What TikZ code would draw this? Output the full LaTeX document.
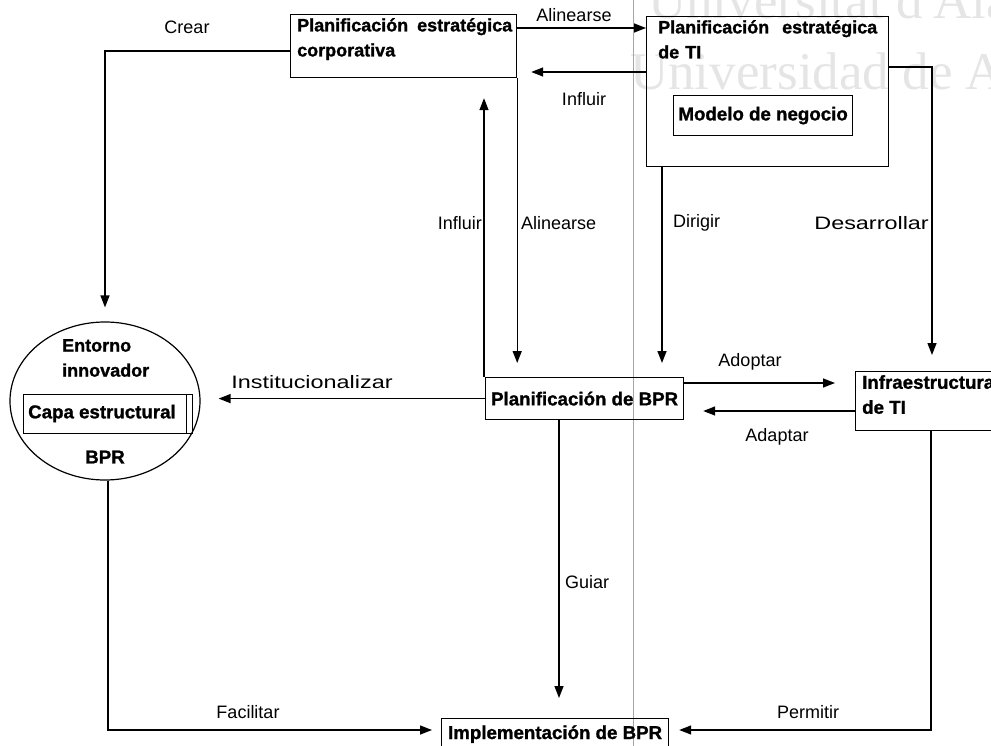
\documentclass[tikz,border=0pt]{standalone}
\usepackage{fontspec}
\setmainfont{Liberation Sans}[BoldFeatures={FakeBold=1.2}]
\newfontfamily\wmfont{Liberation Serif}
\usetikzlibrary{arrows.meta,shapes.geometric,calc}

\begin{document}
\begin{tikzpicture}[x=1pt,y=-1pt,
  box/.style={draw, line width=1.2pt, rectangle, inner sep=0pt},
  btext/.style={font=\bfseries\fontsize{18}{25}\selectfont, inner sep=0pt},
  bbig/.style={font=\bfseries\fontsize{18.7}{25}\selectfont, inner sep=0pt},
  lbl/.style={font=\fontsize{18}{20}\selectfont, inner sep=0pt},
  arr/.style={line width=1.4pt, -{Triangle[length=12pt,width=9pt]}},
  wm/.style={text=black!10, font=\wmfont\fontsize{53}{55}\selectfont, inner sep=0pt, anchor=base west}]

\useasboundingbox (0,0) rectangle (991,746);
\clip (0,0) rectangle (991,746);

% faint background lettering and the thin page crease
\node[wm] (wm1) at (648,19) {Universitat d'Alacant};
\node[wm] (wm2) at (630,90) {Universidad de Alicante};
\draw[black!35, line width=0.5pt] (633,0) -- (633,746);

% corporate strategic planning
\node[box, anchor=north west, minimum width=226, minimum height=63] (corp) at (290,14) {};
\node[btext, anchor=north west, text width=215, align=left] (corptxt) at (297,18)
  {Planificación\hfill estratégica\\corporativa};

% IT strategic planning with business model
\node[box, anchor=north west, minimum width=242, minimum height=150] (ti) at (646,16) {};
\node[btext, anchor=north west, text width=219, align=left] (titxt) at (658,20)
  {Planificación\hfill estratégica\\de TI};
\node[box, bbig, anchor=north west, minimum width=179, minimum height=40] (modelo) at (673,95)
  {Modelo de negocio};

% innovative environment
\node[ellipse, draw, line width=1.2pt, minimum width=190, minimum height=158, inner sep=0pt] (ent) at (105,401) {};
\node[btext, anchor=north west, align=left] (enttxt) at (62,339) {Entorno\\innovador};
\node[box, anchor=north west, minimum width=169, minimum height=39] (capa) at (23,394) {};
\draw[line width=1.2pt] ([xshift=-7pt]capa.north east) -- ([xshift=-7pt]capa.south east);
\node[bbig, anchor=west] (capatxt) at (28,413.5) {Capa estructural};
\node[bbig] (entbpr) at (105,457) {BPR};

% BPR planning, IT infrastructure, BPR implementation
\node[box, bbig, anchor=north west, minimum width=198, minimum height=42] (bpr) at (485,377)
  {Planificación de BPR};
\node[box, anchor=north west, minimum width=150, minimum height=59] (infra) at (855,371) {};
\node[bbig, anchor=north west, align=left] (infratxt) at (862,375) {Infraestructura\\de TI};
\node[box, bbig, anchor=north west, minimum width=227, minimum height=31] (impl) at (441,718)
  {Implementación de BPR};

% connectors
\draw[arr] ([yshift=-5pt]corp.west) -| ([yshift=14pt]ent.north);

\coordinate (alA) at ([yshift=-14pt]corp.north east);
\draw[arr] (alA) -- (alA -| ti.west);

\coordinate (inA) at ([yshift=-56pt]ti.north west);
\draw[arr] (inA) -- ($(inA -| corp.east)+(14,0)$);

\coordinate (ivA) at ([xshift=-1pt]bpr.north west);
\draw[arr] (ivA) -- ($(ivA |- corp.south)+(0,20)$);

\draw[arr] (corp.south east) -- ($(corp.south east |- bpr.north)+(0,-14)$);

\coordinate (dA) at ([xshift=16pt]ti.south west);
\draw[arr] (dA) -- ($(dA |- bpr.north)+(0,-14)$);

\coordinate (deA) at ([yshift=-51pt]ti.north east);
\coordinate (infraIn) at ($(infra.north west)+(77,-16)$);
\draw[arr] (deA) -| (infraIn);

\draw[arr] (bpr.west) -- ($(bpr.west -| ent.east)+(18,0)$);

\coordinate (adA) at ([yshift=-6pt]bpr.north east);
\draw[arr] (adA) -- ($(adA -| infra.west)+(-20,0)$);

\coordinate (apA) at ([yshift=-40pt]infra.north west);
\draw[arr] (apA) -- ($(apA -| bpr.east)+(19,0)$);

\coordinate (gA) at ([xshift=74pt]bpr.south west);
\draw[arr] (gA) -- ($(gA |- impl.north)+(0,-20)$);

\coordinate (fA) at ([xshift=3pt]ent.south);
\coordinate (fB) at ([yshift=-12pt]impl.north west);
\draw[arr] (fA) |- ($(fB)+(-9,0)$);

\coordinate (pA) at ([xshift=76pt]infra.south west);
\draw[arr] (pA) |- ($(fB -| impl.east)+(10,0)$);

% connector labels
\node[lbl] (lcrear) at (187,27) {Crear};
\node[lbl] (lal1) at (574,15) {Alinearse};
\node[lbl] (lin1) at (584,99) {Influir};
\node[lbl, anchor=east] (lin2) at (482,223) {Influir};
\node[lbl, anchor=west] (lal2) at (521,223) {Alinearse};
\node[lbl, anchor=west] (ldir) at (673,223) {Dirigir};
\node[lbl, anchor=east] (ldes) at (929,223) {\scalebox{1.3}[1]{Desarrollar}};
\node[lbl] (linst) at (312,382) {\scalebox{1.3}[1]{Institucionalizar}};
\node[lbl] (lado) at (750,362) {Adoptar};
\node[lbl] (lada) at (777,437) {Adaptar};
\node[lbl, anchor=west] (lgui) at (565,582) {Guiar};
\node[lbl] (lfac) at (248,712) {Facilitar};
\node[lbl] (lper) at (808,712) {Permitir};
\end{tikzpicture}
\end{document}
